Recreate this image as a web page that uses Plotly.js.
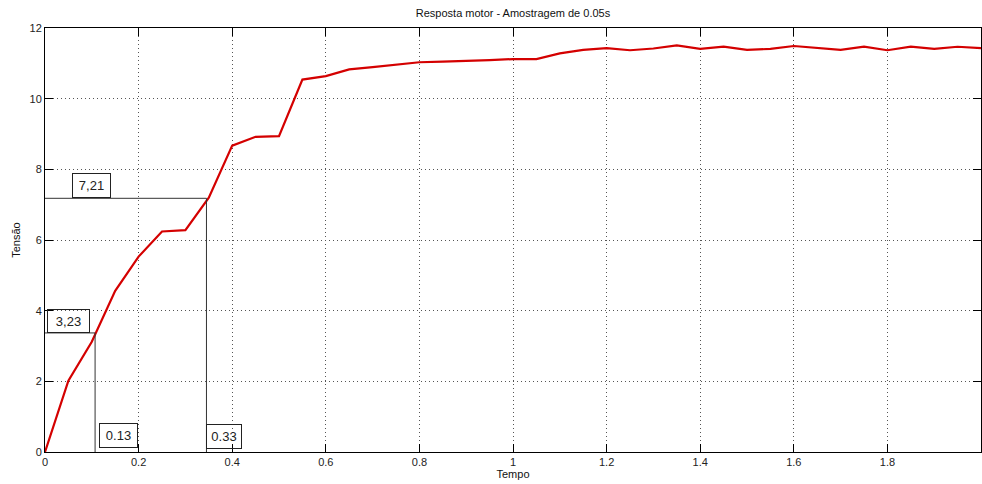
<!DOCTYPE html>
<html>
<head>
<meta charset="utf-8">
<script src="https://cdn.plot.ly/plotly-3.0.1.min.js"></script>
<style>html,body{margin:0;padding:0;background:#fff;}#chart{width:982px;height:484px;}</style>
</head>
<body>
<div id="chart"></div>
<script>
// Sample times (s)
const tempo = [0, 0.05, 0.1, 0.15, 0.2, 0.25, 0.3, 0.35, 0.4, 0.45, 0.5, 0.55, 0.6, 0.65, 0.7, 0.75, 0.8, 0.85, 0.9, 0.95,
  1.0, 1.05, 1.1, 1.15, 1.2, 1.25, 1.3, 1.35, 1.4, 1.45, 1.5, 1.55, 1.6, 1.65, 1.7, 1.75, 1.8, 1.85, 1.9, 1.95, 2.0];
// Measured voltage
const tensao = [0, 2.02, 3.12, 4.56, 5.53, 6.24, 6.28, 7.2, 8.67, 8.92, 8.94, 10.54, 10.64, 10.83, 10.89, 10.95, 11.03, 11.05, 11.06, 11.09,
  11.12, 11.12, 11.28, 11.38, 11.43, 11.37, 11.42, 11.51, 11.41, 11.47, 11.38, 11.41, 11.49, 11.43, 11.38, 11.47, 11.37, 11.47, 11.41, 11.47, 11.43];
// Marker points (guide lines) and their labels
const markX = [0.107, 0.345];
const markY = [3.37, 7.18];
const markYLabels = ['3,23', '7,21'];
const markXLabels = ['0.13', '0.33'];

const tickFont = {family: 'Liberation Sans, Arial, sans-serif', size: 11, color: '#222'};
const boxFont = {family: 'Liberation Sans, Arial, sans-serif', size: 13, color: '#222'};

const traces = [{
  x: tempo, y: tensao, type: 'scatter', mode: 'lines',
  line: {color: 'rgb(212,0,0)', width: 2.2}, hoverinfo: 'skip', showlegend: false
}];

const shapes = [];
for (let i = 0; i < markX.length; i++) {
  shapes.push({type: 'line', xref: 'x', yref: 'y', x0: 0, x1: markX[i], y0: markY[i], y1: markY[i], line: {color: '#333', width: 1}});
  shapes.push({type: 'line', xref: 'x', yref: 'y', x0: markX[i], x1: markX[i], y0: 0, y1: markY[i], line: {color: '#333', width: 1}});
}

const annotations = [
  {xref: 'x', yref: 'y', x: 0.005, y: markY[0], text: markYLabels[0], xanchor: 'left', yanchor: 'bottom', showarrow: false,
   bordercolor: '#222', borderwidth: 1, borderpad: 0, width: 41, height: 22, font: boxFont},
  {xref: 'x', yref: 'y', x: 0.057, y: markY[1], text: markYLabels[1], xanchor: 'left', yanchor: 'bottom', showarrow: false,
   bordercolor: '#222', borderwidth: 1, borderpad: 0, width: 37, height: 23, font: boxFont},
  {xref: 'x', yref: 'y', x: 0.116, y: 0.1, text: markXLabels[0], xanchor: 'left', yanchor: 'bottom', showarrow: false,
   bordercolor: '#222', borderwidth: 1, borderpad: 0, width: 37, height: 23, font: boxFont},
  {xref: 'x', yref: 'y', x: markX[1], y: 0.08, text: markXLabels[1], xanchor: 'left', yanchor: 'bottom', showarrow: false,
   bordercolor: '#222', borderwidth: 1, borderpad: 0, width: 34, height: 23, font: boxFont}
];

const axisCommon = {
  showline: true, linecolor: '#000', linewidth: 1, mirror: 'ticks',
  ticks: 'inside', ticklen: 8, tickcolor: '#000', tickwidth: 1,
  showgrid: true, gridcolor: '#555', griddash: '1px,3px', gridwidth: 1,
  zeroline: false, tickfont: tickFont, fixedrange: true
};

const layout = {
  width: 982, height: 484,
  margin: {l: 45, r: 1, t: 28, b: 32},
  paper_bgcolor: '#fff', plot_bgcolor: '#fff',
  title: {text: 'Resposta motor - Amostragem de 0.05s', xref: 'paper', x: 0.5, xanchor: 'center',
          yref: 'container', y: 0.973, yanchor: 'middle',
          font: {family: 'Liberation Sans, Arial, sans-serif', size: 11, color: '#111'}},
  xaxis: Object.assign({}, axisCommon, {range: [0, 2.000001], dtick: 0.2, tick0: 0,
          title: {text: 'Tempo', standoff: 2, font: {family: 'Liberation Sans, Arial, sans-serif', size: 11, color: '#111'}}}),
  yaxis: Object.assign({}, axisCommon, {range: [0, 12], dtick: 2, tick0: 0,
          title: {text: 'Tensão', standoff: 6, font: {family: 'Liberation Sans, Arial, sans-serif', size: 11, color: '#111'}}}),
  shapes: shapes,
  annotations: annotations,
  showlegend: false
};

Plotly.newPlot('chart', traces, layout, {staticPlot: true, displayModeBar: false});
</script>
</body>
</html>
